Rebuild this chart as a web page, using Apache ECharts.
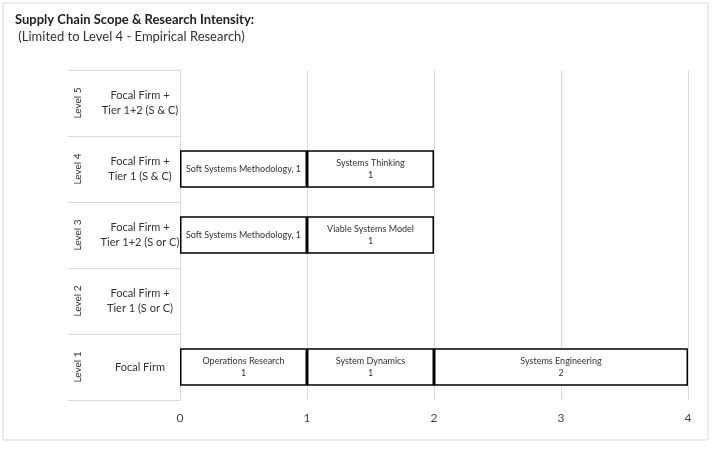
<!DOCTYPE html>
<html><head><meta charset="utf-8">
<script src="https://cdn.jsdelivr.net/npm/echarts@6/dist/echarts.min.js"></script>
<style>html,body{margin:0;padding:0;background:#fff}#c{width:712px;height:450px}</style>
</head><body><div id="c"></div>
<script>
const levels = ['Level 1','Level 2','Level 3','Level 4','Level 5'];
const scopes = ['Focal Firm','Focal Firm +\nTier 1 (S or C)','Focal Firm +\nTier 1+2 (S or C)','Focal Firm +\nTier 1 (S & C)','Focal Firm +\nTier 1+2 (S & C)'];
const seg1Names = ['Operations Research','','Soft Systems Methodology','Soft Systems Methodology',''];
const seg1Values = [1,null,1,1,null];
const seg2Names = ['System Dynamics','','Viable Systems Model','Systems Thinking',''];
const seg2Values = [1,null,1,1,null];
const seg3Names = ['Systems Engineering','','','',''];
const seg3Values = [2,null,null,null,null];
const xTicks = [0,1,2,3,4];

const font = 'Lato, "Open Sans", sans-serif';
function mk(names, vals){ return vals.map((v,i)=>({value:v,name:names[i]})); }
function fmt(p){
  if(p.value==null) return '';
  if(p.data.name==='Soft Systems Methodology') return p.data.name+', '+p.value;
  return p.data.name+'\n'+p.value;
}
const base = {type:'bar',stack:'s',barWidth:'57%',
  itemStyle:{color:'#fff',borderColor:'#000',borderWidth:1.5},
  label:{show:true,position:'inside',formatter:fmt,color:'#333',fontSize:9,fontFamily:font,lineHeight:12}};
const chart = echarts.init(document.getElementById('c'));
chart.setOption({
  animation:false,
  graphic:[{type:'rect',shape:{x:3,y:3,width:705,height:437},style:{fill:'none',stroke:'#d9d9d9',lineWidth:1}}],
  title:{text:'Supply Chain Scope & Research Intensity:',subtext:' (Limited to Level 4 - Empirical Research)',left:10,top:8,itemGap:4,
    textStyle:{fontSize:13,fontWeight:'bold',color:'#222',fontFamily:font},
    subtextStyle:{fontSize:13,color:'#333',fontFamily:font}},
  grid:{left:180,right:24,top:70,bottom:50},
  xAxis:{type:'value',min:0,max:4,interval:1,
    axisLine:{show:false},axisTick:{show:false},
    splitLine:{lineStyle:{color:'#d9d9d9'}},
    axisLabel:{color:'#444',fontSize:12,fontFamily:font,margin:12,formatter:v=>xTicks.includes(v)?String(v):''}},
  yAxis:[
    {type:'category',data:scopes,
      axisLine:{show:true,lineStyle:{color:'#d9d9d9'}},
      axisTick:{show:true,length:112,lineStyle:{color:'#d9d9d9'}},
      axisLabel:{align:'center',margin:40,color:'#333',fontSize:11,fontFamily:font,lineHeight:15}},
    {type:'category',data:levels,position:'left',
      axisLine:{show:false},axisTick:{show:false},
      axisLabel:{rotate:90,margin:97,color:'#333',fontSize:10,fontFamily:font,align:'center'}}
  ],
  series:[
    Object.assign({},base,{name:'a',data:mk(seg1Names,seg1Values)}),
    Object.assign({},base,{name:'b',data:mk(seg2Names,seg2Values)}),
    Object.assign({},base,{name:'c',data:mk(seg3Names,seg3Values)})
  ]
});
</script></body></html>
